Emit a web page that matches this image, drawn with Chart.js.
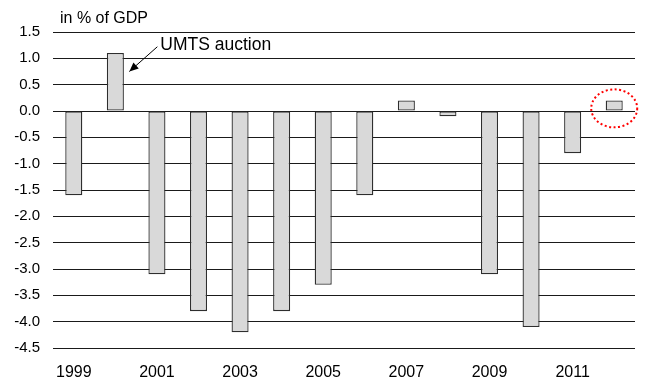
<!DOCTYPE html>
<html>
<head>
<meta charset="utf-8">
<script src="https://cdn.jsdelivr.net/npm/chart.js@4"></script>
<style>
  html, body { margin: 0; padding: 0; background: #fff; }
  canvas { display: block; }
</style>
</head>
<body>
<canvas id="c" width="645" height="383"></canvas>
<script>
// General government balance, in % of GDP
const years = ['1999','2000','2001','2002','2003','2004','2005','2006','2007','2008','2009','2010','2011','2012'];
const balance = [-1.6, 1.1, -3.1, -3.8, -4.2, -3.8, -3.3, -1.6, 0.2, -0.1, -3.1, -4.1, -0.8, 0.2];
const unitLabel = 'in % of GDP';
const noteText = 'UMTS auction';
const noteYear = '2000';
const highlightYear = '2012';

const FONT = 'Arial, "Liberation Sans", sans-serif';

// Draws the unit caption, the arrow note and the dotted highlight ring
const overlay = {
  id: 'overlay',
  afterDatasetsDraw(chart) {
    const ctx = chart.ctx;
    const x = chart.scales.x, y = chart.scales.y;
    ctx.save();

    ctx.fillStyle = '#000';
    ctx.font = '16px ' + FONT;
    ctx.textBaseline = 'middle';
    ctx.textAlign = 'left';
    ctx.fillText(unitLabel, 60, 19);

    // arrow pointing at the 2000 bar
    const ni = years.indexOf(noteYear);
    const bx = x.getPixelForValue(ni);
    const sx = bx + 42, sy = y.getPixelForValue(1.22);
    const tx = bx + 14, ty = y.getPixelForValue(0.75);
    ctx.strokeStyle = '#000';
    ctx.lineWidth = 1;
    ctx.beginPath();
    ctx.moveTo(sx, sy);
    ctx.lineTo(tx, ty);
    ctx.stroke();
    const ang = Math.atan2(ty - sy, tx - sx);
    const L = 9, W = 4;
    ctx.beginPath();
    ctx.moveTo(tx, ty);
    ctx.lineTo(tx - L * Math.cos(ang) + W * Math.sin(ang), ty - L * Math.sin(ang) - W * Math.cos(ang));
    ctx.lineTo(tx - L * Math.cos(ang) - W * Math.sin(ang), ty - L * Math.sin(ang) + W * Math.cos(ang));
    ctx.closePath();
    ctx.fillStyle = '#000';
    ctx.fill();
    ctx.font = '17.5px ' + FONT;
    ctx.fillText(noteText, sx + 3, sy - 2);

    // dotted ring around the last bar
    const hi = years.indexOf(highlightYear);
    const hx = x.getPixelForValue(hi);
    const hy = y.getPixelForValue(0.05);
    ctx.strokeStyle = '#ff0000';
    ctx.lineWidth = 2;
    ctx.setLineDash([2, 2.5]);
    ctx.beginPath();
    ctx.ellipse(hx, hy, 23, 19, 0, 0, Math.PI * 2);
    ctx.stroke();
    ctx.restore();
  }
};

new Chart(document.getElementById('c'), {
  type: 'bar',
  data: {
    labels: years,
    datasets: [{
      data: balance,
      backgroundColor: '#d9d9d9',
      borderColor: '#2e2e2e',
      borderWidth: 1.3,
      borderSkipped: false,
      categoryPercentage: 1,
      barPercentage: 0.41
    }]
  },
  options: {
    responsive: false,
    animation: false,
    layout: { padding: { left: 0, right: 10, top: 32, bottom: 0 } },
    plugins: { legend: { display: false }, tooltip: { enabled: false } },
    scales: {
      x: {
        grid: { display: false },
        border: { display: false },
        ticks: {
          autoSkip: false,
          maxRotation: 0,
          padding: 7,
          color: '#000',
          font: { family: FONT, size: 16 },
          callback: (v, i) => (i % 2 === 0 ? years[i] : '')
        },
        afterFit: s => { s.height = 35; }
      },
      y: {
        min: -4.5,
        max: 1.5,
        border: { display: false },
        grid: { color: '#1a1a1a', lineWidth: 1, drawTicks: false },
        ticks: {
          stepSize: 0.5,
          padding: 13,
          color: '#000',
          font: { family: FONT, size: 15 },
          callback: v => Number(v).toFixed(1)
        },
        afterFit: s => { s.width = 53; }
      }
    }
  },
  plugins: [overlay]
});
</script>
</body>
</html>
